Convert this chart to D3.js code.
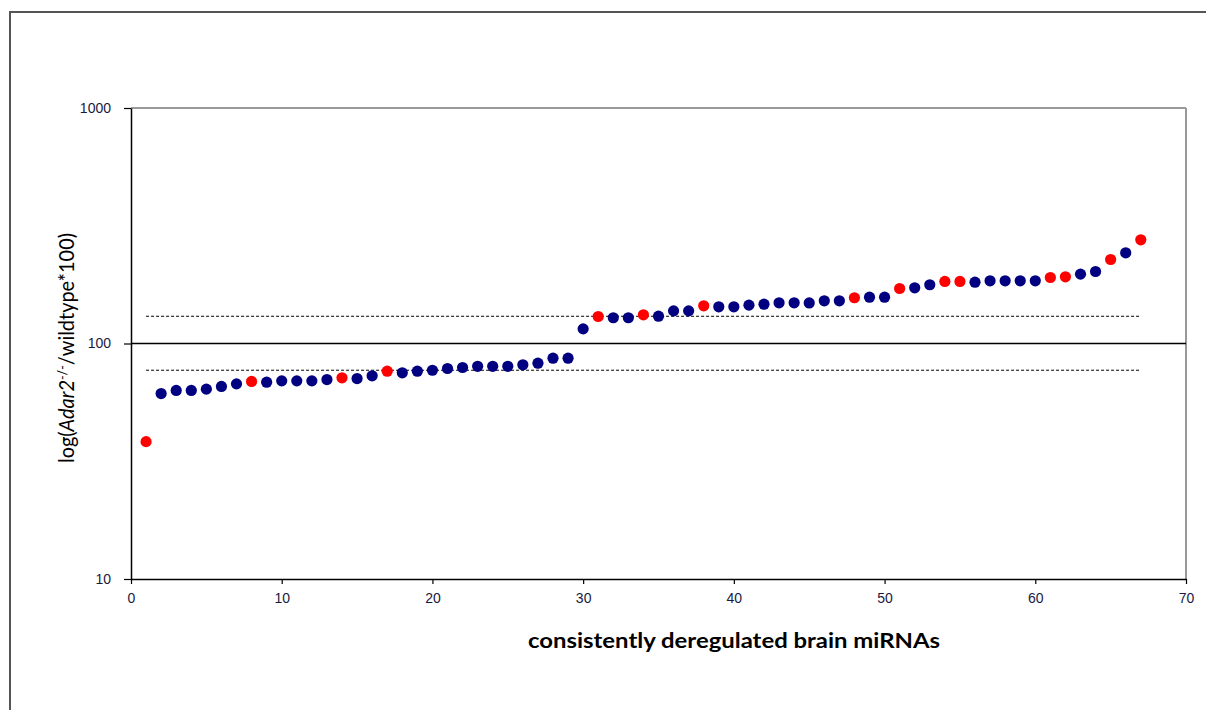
<!DOCTYPE html>
<html>
<head>
<meta charset="utf-8">
<script src="https://cdn.jsdelivr.net/npm/d3@7"></script>
<style>
  html, body { margin: 0; padding: 0; background: #fff; }
  #plot { width: 1206px; height: 710px; }
</style>
</head>
<body>
<div id="plot"></div>
<script>
// ratio Adar2-/- / wildtype * 100, one value per miRNA (rank 1..67)
const ratios = [
  38.3, 61.3, 63.2, 63.2, 64.0, 65.7, 67.4, 69.0, 68.5, 69.4,
  69.4, 69.4, 70.3, 71.5, 71.0, 72.9, 76.3, 75.1, 76.3, 77.0,
  78.3, 79.1, 80.0, 80.0, 80.0, 81.2, 82.5, 86.6, 86.6, 115.4,
  130.2, 128.6, 128.6, 132.4, 130.6, 137.6, 137.6, 144.6, 143.2, 143.2,
  145.5, 146.9, 148.9, 148.9, 148.7, 151.8, 151.8, 156.4, 157.3, 157.3,
  171.2, 172.4, 177.6, 183.4, 183.4, 182.1, 184.6, 184.6, 184.6, 184.6,
  190.7, 192.0, 197.0, 202.2, 227.4, 242.7, 275.6
];
// ranks drawn in red
const redRanks = [1, 8, 14, 17, 31, 34, 38, 48, 51, 54, 55, 61, 62, 65, 67];
const thresholds = { upper: 130.5, lower: 77, base: 100 };
const xTicks = [0, 10, 20, 30, 40, 50, 60, 70];
const yTicks = [10, 100, 1000];

const W = 1206, H = 710;
const svg = d3.select('#plot').append('svg').attr('width', W).attr('height', H);

// outer frame (top and left edges of the pasted figure)
svg.append('line').attr('x1', 9).attr('x2', W).attr('y1', 12).attr('y2', 12)
  .attr('stroke', '#555').attr('stroke-width', 2);
svg.append('line').attr('x1', 10).attr('x2', 10).attr('y1', 12).attr('y2', H)
  .attr('stroke', '#555').attr('stroke-width', 2);

const x = d3.scaleLinear().domain([0, 70]).range([131, 1186]);
const y = d3.scaleLog().domain([10, 1000]).range([579, 108]);

// plot area border (grey top/right)
svg.append('line').attr('x1', x(0)).attr('x2', x(70)).attr('y1', y(1000)).attr('y2', y(1000))
  .attr('stroke', '#999').attr('stroke-width', 2);
svg.append('line').attr('x1', x(70)).attr('x2', x(70)).attr('y1', y(1000)).attr('y2', y(10))
  .attr('stroke', '#999').attr('stroke-width', 2);

const tickFont = '"Liberation Sans", Arial, sans-serif';

const xAxis = svg.append('g').attr('transform', `translate(0,${y(10)})`)
  .call(d3.axisBottom(x).tickValues(xTicks).tickSize(5).tickSizeOuter(0).tickPadding(9));
const yAxis = svg.append('g').attr('transform', `translate(${x(0)},0)`)
  .call(d3.axisLeft(y).tickValues(yTicks).tickFormat(d3.format('d')).tickSize(7).tickSizeOuter(0).tickPadding(13));
[xAxis, yAxis].forEach(a => {
  a.select('.domain').attr('stroke', '#000').attr('stroke-width', 1.5);
  a.selectAll('.tick line').attr('stroke', '#000').attr('stroke-width', 1.2);
  a.selectAll('.tick text').attr('fill', '#1a1a40').style('font-family', tickFont).style('font-size', '14px');
});

// reference lines
svg.append('line').attr('x1', x(0)).attr('x2', x(70))
  .attr('y1', y(thresholds.base)).attr('y2', y(thresholds.base))
  .attr('stroke', '#000').attr('stroke-width', 1.5);
[thresholds.upper, thresholds.lower].forEach(v => {
  svg.append('line').attr('x1', x(1)).attr('x2', x(ratios.length))
    .attr('y1', y(v)).attr('y2', y(v))
    .attr('stroke', '#000').attr('stroke-width', 1).attr('stroke-dasharray', '3,2');
});

// points
const pts = ratios.map((v, i) => ({ rank: i + 1, v, red: redRanks.includes(i + 1) }));
svg.append('g').selectAll('circle').data(pts).enter().append('circle')
  .attr('cx', d => x(d.rank))
  .attr('cy', d => y(d.v))
  .attr('r', 5.6)
  .attr('fill', d => d.red ? '#ff0000' : '#000080');

// axis titles
svg.append('text')
  .attr('x', 734).attr('y', 648)
  .attr('text-anchor', 'middle')
  .attr('textLength', 412).attr('lengthAdjust', 'spacingAndGlyphs')
  .style('font-family', 'Lato, "Open Sans", sans-serif')
  .style('font-weight', 'bold').style('font-size', '20px').attr('fill', '#000')
  .text('consistently deregulated brain miRNAs');

const yt = svg.append('text')
  .attr('transform', 'translate(74,348) rotate(-90)')
  .attr('text-anchor', 'middle')
  .attr('textLength', 230).attr('lengthAdjust', 'spacingAndGlyphs')
  .style('font-family', 'Lato, "Open Sans", sans-serif')
  .style('font-size', '21px').attr('fill', '#000');
yt.append('tspan').text('log(');
yt.append('tspan').style('font-style', 'italic').text('Adar2');
yt.append('tspan').attr('dy', -7).style('font-size', '13px').text('-/-');
yt.append('tspan').attr('dy', 7).text('/wildtype*100)');
</script>
</body>
</html>
